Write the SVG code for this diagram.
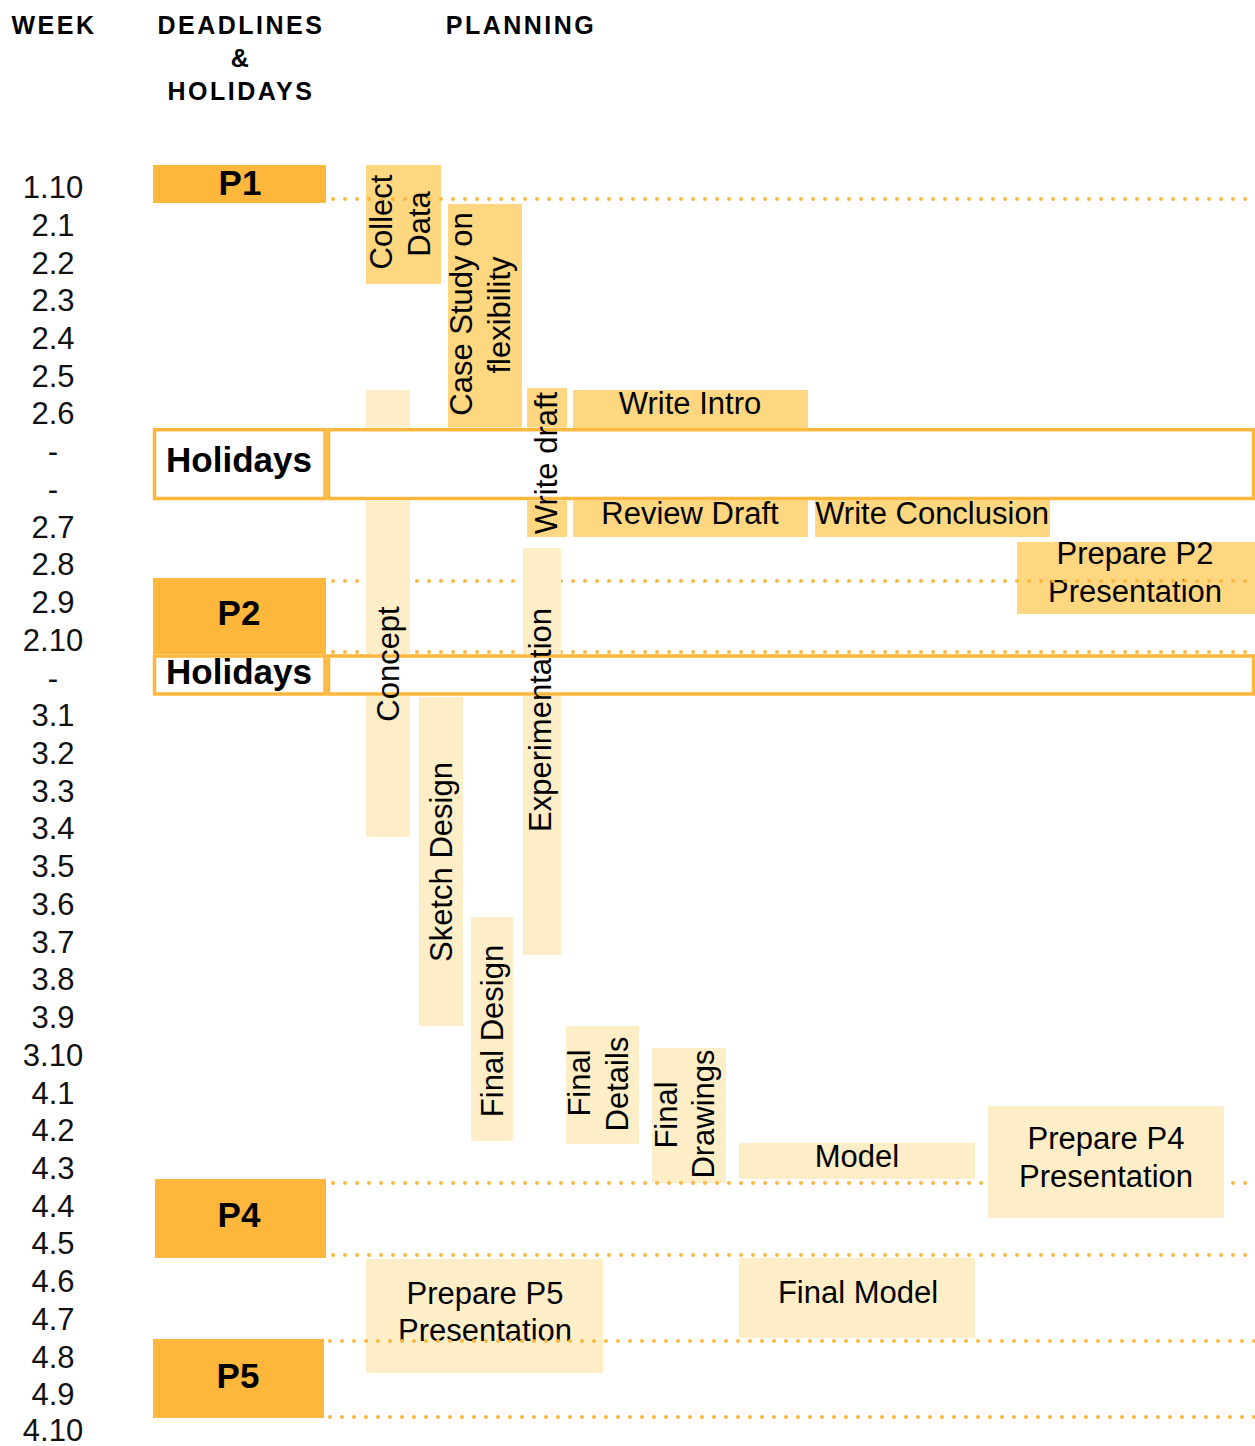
<svg xmlns="http://www.w3.org/2000/svg" width="1255" height="1446" viewBox="0 0 1255 1446">
<style>
.hdr{font-family:"Liberation Sans",Arial,sans-serif;font-weight:bold;font-size:25px;letter-spacing:2.5px;fill:#000;text-anchor:middle}
.wk{font-family:"Liberation Sans",Arial,sans-serif;font-size:31px;fill:#111;text-anchor:middle}
.dl{fill:#FDB73D;stroke:none}
.dlt{font-family:"Liberation Sans",Arial,sans-serif;font-weight:bold;font-size:35px;fill:#000;text-anchor:middle}
.hol{fill:#fff;stroke:#FDB73D;stroke-width:3.5}
.mid{fill:#FED780}
.lt{fill:#FEEEC8}
.tx{font-family:"Liberation Sans",Arial,sans-serif;font-size:31px;fill:#000;text-anchor:middle}
.dot{stroke:#FDB73D;stroke-width:4;stroke-linecap:round;stroke-dasharray:0 12;fill:none}
</style>
<defs>
<mask id="noHol" maskUnits="userSpaceOnUse" x="0" y="0" width="1255" height="1446">
<rect x="0" y="0" width="1255" height="1446" fill="#fff"/>
<rect x="0" y="427.5" width="1255" height="73" fill="#000"/>
<rect x="0" y="653.5" width="1255" height="42.5" fill="#000"/>
</mask>
</defs>
<rect width="1255" height="1446" fill="#fff"/>

<g id="headers">
<text class="hdr" x="54" y="34">WEEK</text>
<text class="hdr" x="241" y="34">DEADLINES</text>
<text class="hdr" x="241" y="67">&amp;</text>
<text class="hdr" x="241" y="100">HOLIDAYS</text>
<text class="hdr" x="521" y="34">PLANNING</text>
</g>

<g id="weeks">
<text class="wk" x="53" y="198">1.10</text>
<text class="wk" x="53" y="235.7">2.1</text>
<text class="wk" x="53" y="273.5">2.2</text>
<text class="wk" x="53" y="311.2">2.3</text>
<text class="wk" x="53" y="348.9">2.4</text>
<text class="wk" x="53" y="386.7">2.5</text>
<text class="wk" x="53" y="424.4">2.6</text>
<text class="wk" x="53" y="462.1">-</text>
<text class="wk" x="53" y="499.8">-</text>
<text class="wk" x="53" y="537.6">2.7</text>
<text class="wk" x="53" y="575.3">2.8</text>
<text class="wk" x="53" y="613">2.9</text>
<text class="wk" x="53" y="650.8">2.10</text>
<text class="wk" x="53" y="688.5">-</text>
<text class="wk" x="53" y="726.2">3.1</text>
<text class="wk" x="53" y="763.9">3.2</text>
<text class="wk" x="53" y="801.7">3.3</text>
<text class="wk" x="53" y="839.4">3.4</text>
<text class="wk" x="53" y="877.1">3.5</text>
<text class="wk" x="53" y="914.9">3.6</text>
<text class="wk" x="53" y="952.6">3.7</text>
<text class="wk" x="53" y="990.3">3.8</text>
<text class="wk" x="53" y="1028.1">3.9</text>
<text class="wk" x="53" y="1065.8">3.10</text>
<text class="wk" x="53" y="1103.5">4.1</text>
<text class="wk" x="53" y="1141.2">4.2</text>
<text class="wk" x="53" y="1179">4.3</text>
<text class="wk" x="53" y="1216.7">4.4</text>
<text class="wk" x="53" y="1254.4">4.5</text>
<text class="wk" x="53" y="1292.2">4.6</text>
<text class="wk" x="53" y="1329.9">4.7</text>
<text class="wk" x="53" y="1367.6">4.8</text>
<text class="wk" x="53" y="1405.4">4.9</text>
<text class="wk" x="53" y="1441">4.10</text>
</g>

<g id="holidays1">
<rect class="hol" x="154.5" y="429.7" width="170.5" height="68.8"/>
<rect class="hol" x="328.5" y="429.7" width="925" height="68.8"/>
<text class="dlt" x="239" y="472">Holidays</text>
</g>
<g id="holidays2">
<rect class="hol" x="154.5" y="656" width="170.5" height="38"/>
<rect class="hol" x="328.5" y="656" width="925" height="38"/>
<text class="dlt" x="239" y="684">Holidays</text>
</g>

<g id="p1"><rect class="dl" x="153" y="165" width="173" height="38"/><text class="dlt" x="240" y="195">P1</text></g>
<g id="p2"><rect class="dl" x="153" y="578" width="173" height="76"/><text class="dlt" x="239" y="625">P2</text></g>
<g id="p4"><rect class="dl" x="155" y="1179" width="171" height="79"/><text class="dlt" x="239" y="1227">P4</text></g>
<g id="p5"><rect class="dl" x="153" y="1339" width="171" height="79"/><text class="dlt" x="238" y="1388">P5</text></g>

<g id="collect-data"><rect class="mid" x="366" y="165" width="75" height="119"/>
<text class="tx" transform="translate(392,222) rotate(-90)">Collect</text>
<text class="tx" transform="translate(430,224) rotate(-90)">Data</text></g>

<g id="case-study"><rect class="mid" x="448" y="204" width="74" height="224" mask="url(#noHol)"/>
<text class="tx" transform="translate(472,314) rotate(-90)">Case Study on</text>
<text class="tx" transform="translate(510,315) rotate(-90)">flexibility</text></g>

<g id="write-draft"><rect class="mid" x="527" y="388" width="40" height="149" mask="url(#noHol)"/>
<text class="tx" transform="translate(557,463) rotate(-90)">Write draft</text></g>

<g id="write-intro"><rect class="mid" x="573" y="390" width="235" height="38"/>
<text class="tx" x="690" y="414">Write Intro</text></g>

<g id="review-draft"><rect class="mid" x="573" y="500" width="235" height="37"/>
<text class="tx" x="690" y="524">Review Draft</text></g>

<g id="write-conclusion"><rect class="mid" x="815" y="500" width="235" height="37"/>
<text class="tx" x="932" y="524">Write Conclusion</text></g>

<g id="prepare-p2"><rect class="mid" x="1017" y="542" width="238" height="72"/>
<text class="tx" x="1135" y="564">Prepare P2</text>
<text class="tx" x="1135" y="602">Presentation</text></g>

<g id="sketch-design"><rect class="lt" x="419" y="697" width="44" height="329"/>
<text class="tx" transform="translate(452,862) rotate(-90)">Sketch Design</text></g>

<g id="final-design"><rect class="lt" x="471" y="917" width="42" height="224"/>
<text class="tx" transform="translate(503,1031) rotate(-90)">Final Design</text></g>

<g id="final-details"><rect class="lt" x="566" y="1026" width="73" height="118"/>
<text class="tx" transform="translate(590,1083) rotate(-90)">Final</text>
<text class="tx" transform="translate(628,1084) rotate(-90)">Details</text></g>

<g id="final-drawings"><rect class="lt" x="652" y="1048" width="74" height="135"/>
<text class="tx" transform="translate(677,1115) rotate(-90)">Final</text>
<text class="tx" transform="translate(714,1114) rotate(-90)">Drawings</text></g>

<g id="model"><rect class="lt" x="739" y="1143" width="236" height="36"/>
<text class="tx" x="857" y="1167">Model</text></g>

<g id="final-model"><rect class="lt" x="739" y="1258" width="236" height="80"/>
<text class="tx" x="858" y="1303">Final Model</text></g>

<g id="prepare-p5"><rect class="lt" x="366" y="1259" width="237" height="114"/>
<text class="tx" x="485" y="1304">Prepare P5</text>
<text class="tx" x="485" y="1341">Presentation</text></g>

<g id="gridlines">
<line class="dot" x1="333" y1="199" x2="1255" y2="199"/>
<line class="dot" x1="333" y1="581" x2="1255" y2="581"/>
<line class="dot" x1="333" y1="652" x2="1255" y2="652"/>
<line class="dot" x1="333" y1="1183" x2="1255" y2="1183"/>
<line class="dot" x1="333" y1="1255" x2="1255" y2="1255"/>
<line class="dot" x1="330" y1="1341" x2="1255" y2="1341"/>
<line class="dot" x1="330" y1="1417" x2="1255" y2="1417"/>
</g>

<g id="concept"><rect class="lt" x="366" y="390" width="44" height="447" mask="url(#noHol)"/>
<text class="tx" transform="translate(399,664) rotate(-90)">Concept</text></g>

<g id="experimentation"><rect class="lt" x="523" y="548" width="38" height="407" mask="url(#noHol)"/>
<text class="tx" transform="translate(551,720) rotate(-90)">Experimentation</text></g>

<g id="prepare-p4"><rect class="lt" x="988" y="1106" width="236" height="112"/>
<text class="tx" x="1106" y="1149">Prepare P4</text>
<text class="tx" x="1106" y="1187">Presentation</text></g>
</svg>
